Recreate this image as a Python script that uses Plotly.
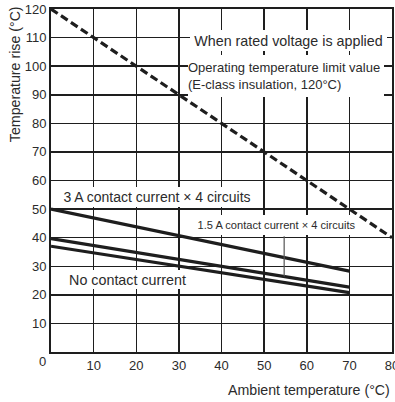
import plotly.graph_objects as go

# ---- data ----
ambient_limit = [0, 80]
limit_rise = [120, 40]            # operating temperature limit (dashed)

ambient_series = [0, 70]
rise_3a = [50, 28.3]              # 3 A contact current x 4 circuits
rise_15a = [39.7, 22.7]           # 1.5 A contact current x 4 circuits
rise_none = [37, 20.8]            # no contact current

x_ticks = [10, 20, 30, 40, 50, 60, 70, 80]
y_ticks = [10, 20, 30, 40, 50, 60, 70, 80, 90, 100, 110, 120]
leader_x = 54.7                   # leader from 1.5 A label to its line

FONT = "Liberation Sans, Arial, sans-serif"
TXT = "#2b2b2b"
LINE = "#1e1e1e"

fig = go.Figure()
fig.add_trace(go.Scatter(x=ambient_limit, y=limit_rise, mode="lines",
                         line=dict(color=LINE, width=3.2, dash="8px,4px"),
                         hoverinfo="skip", showlegend=False))
for ys in (rise_3a, rise_15a, rise_none):
    fig.add_trace(go.Scatter(x=ambient_series, y=ys, mode="lines",
                             line=dict(color=LINE, width=3.2),
                             hoverinfo="skip", showlegend=False))

# leader line (1.5 A label -> 1.5 A curve)
y_on_15a = rise_15a[0] + (rise_15a[1] - rise_15a[0]) * leader_x / ambient_series[1]
fig.add_shape(type="line", x0=leader_x, x1=leader_x, y0=y_on_15a, y1=40.5,
              line=dict(color="#555555", width=1.2), layer="above")

ann = []
def box(text, x, y, w, h, size=14, align="left"):
    ann.append(dict(text=text, x=x, y=y, xref="x", yref="y", showarrow=False,
                    width=w, height=h, align=align, valign="middle",
                    bgcolor="white", borderpad=0, borderwidth=0,
                    font=dict(family=FONT, size=size, color=TXT)))

box("When rated voltage is applied", 55.7, 109.0, 197, 21, size=14.3, align="center")
box("Operating temperature limit value<br>(E-class insulation, 120°C)", 55.1, 96.6, 196, 42, size=13)
box("3 A contact current × 4 circuits", 24.9, 54.2, 210, 20, size=14, align="center")
box("1.5 A contact current × 4 circuits", 52.9, 44.4, 163, 20, size=11.1, align="center")
box("No contact current", 17.9, 25.4, 125, 19, size=14.3, align="center")

# axis titles and corner zero
ann.append(dict(text="Temperature rise (°C)", x=-0.1056, y=0.81, xref="paper", yref="paper",
                showarrow=False, textangle=-90, xanchor="center", yanchor="middle",
                font=dict(family=FONT, size=14.2, color=TXT)))
ann.append(dict(text="Ambient temperature (°C)", x=1.0, y=-0.111, xref="paper", yref="paper",
                showarrow=False, xanchor="right", yanchor="middle",
                font=dict(family=FONT, size=14.2, color=TXT)))
ann.append(dict(text="0", x=-0.0235, y=-0.029, xref="paper", yref="paper",
                showarrow=False, xanchor="center", yanchor="middle",
                font=dict(family=FONT, size=13, color=TXT)))

axis_common = dict(showgrid=True, gridcolor=LINE, gridwidth=1.5,
                   showline=True, linecolor=LINE, linewidth=2, mirror=True,
                   zeroline=False, ticks="", automargin=False,
                   ticklabeloverflow="allow",
                   tickfont=dict(family=FONT, size=13, color=TXT))

fig.update_layout(
    width=395, height=402,
    margin=dict(l=51, r=3, t=9, b=50),
    paper_bgcolor="white", plot_bgcolor="white",
    xaxis=dict(range=[0, 80], tickvals=x_ticks, **axis_common),
    yaxis=dict(range=[0, 120], tickvals=y_ticks, **axis_common),
    annotations=ann,
    showlegend=False,
)

# remove the browser's default 8px body margin so the figure fills the window
fig.write_html("out.html",
               config={"displayModeBar": False, "staticPlot": True},
               post_script="document.body.style.margin='0';document.body.style.overflow='hidden';")
